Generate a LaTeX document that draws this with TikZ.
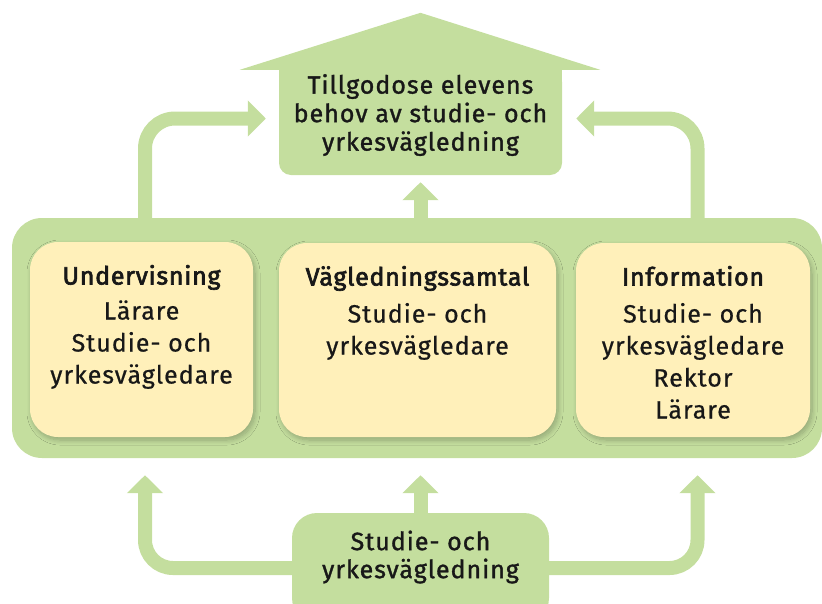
\documentclass[tikz,border=0pt]{standalone}
\usepackage{fontspec}
\setmainfont{Fira Sans}[LetterSpace=4, FakeBold=0.6]
\newfontfamily\medfont{Fira Sans}[LetterSpace=4, FakeBold=1.3]
\newfontfamily\hdfont{Fira Sans}[LetterSpace=3, FakeBold=2.6]
\usetikzlibrary{arrows.meta,shadows.blur,calc}
\definecolor{lgreen}{RGB}{196,222,158}
\definecolor{lyellow}{RGB}{255,240,186}
\definecolor{ink}{RGB}{24,24,24}
\begin{document}
\begin{tikzpicture}[x=1pt,y=-1pt,
  txt/.style={text=ink, font=\fontsize{25}{32}\selectfont, align=center, inner sep=0pt},
  greenbox/.style={fill=lgreen, draw=none, inner sep=0pt},
  yellowbox/.style={fill=lyellow, draw=none, rounded corners=28pt, inner sep=0pt,
    blur shadow={shadow xshift=2pt, shadow yshift=-3pt, shadow blur steps=10, shadow opacity=25, shadow blur radius=5pt}},
  flow/.style={line width=14pt, draw=lgreen, -{Triangle[width=35pt,length=18pt]}}
]
\useasboundingbox (0,0) rectangle (822,603);

% central hub
\node[greenbox, rounded corners=30pt, minimum width=810, minimum height=240] (hub) at (417,338) {};

% goal house
\node[greenbox, rounded corners=12pt, minimum width=283, minimum height=105] (goal) at (420.5,122.5) {};
\fill[lgreen] (goal.north west) rectangle (goal.east);
\fill[lgreen] ([xshift=-39pt]goal.north west) -- ($(goal.north)+(0,-57)$) -- ([xshift=38pt]goal.north east) -- cycle;
\node[txt, font=\fontsize{25}{28.5}\medfont] (goaltext) at (420.5,115) {Tillgodose elevens\\behov av studie- och\\yrkesvägledning};

% source box
\node[greenbox, rounded corners=25pt, minimum width=257, minimum height=110] (src) at (420.5,568) {};
\node[txt, font=\fontsize{25}{28}\medfont] (srctext) at (420.5,557) {Studie- och\\yrkesvägledning};

% yellow boxes
\node[yellowbox, minimum width=223, minimum height=195] (ub) at (141.5,339.5) {};
\node[yellowbox, minimum width=277, minimum height=194] (vb) at (417.5,340) {};
\node[yellowbox, minimum width=234, minimum height=194] (ib) at (693,340) {};

\node[txt, anchor=north] (ubt) at ([yshift=-23pt]ub.north) {{\hdfont Undervisning}\\[3pt]Lärare\\Studie- och\\yrkesvägledare};
\node[txt, anchor=north] (vbt) at ([yshift=-23pt]vb.north) {{\hdfont Vägledningssamtal}\\[5pt]Studie- och\\yrkesvägledare};
\node[txt, anchor=north] (ibt) at ([yshift=-23pt]ib.north) {{\hdfont Information}\\[5pt]Studie- och\\yrkesvägledare\\Rektor\\Lärare};

% columns
\coordinate (lx) at (145,0);
\coordinate (rx) at (697.5,0);

% arrows up to goal
\draw[flow, rounded corners=30pt, shorten >=13pt] ([yshift=-6pt]hub.north -| lx) |- ([yshift=4pt]goal.west);
\draw[flow, shorten >=7pt] ([yshift=-6pt]hub.north -| goal.south) -- (goal.south);
\draw[flow, rounded corners=30pt, shorten >=14pt] ([yshift=-6pt]hub.north -| rx) |- ([yshift=4pt]goal.east);

% arrows from source to hub
\draw[flow, rounded corners=28pt, shorten >=17pt] ([xshift=6pt]src.west) -| (hub.south -| lx);
\draw[flow, shorten >=17pt] ([yshift=-6pt]src.north) -- (hub.south -| src.north);
\draw[flow, rounded corners=28pt, shorten >=17pt] ([xshift=-6pt]src.east) -| (hub.south -| rx);
\end{tikzpicture}
\end{document}
